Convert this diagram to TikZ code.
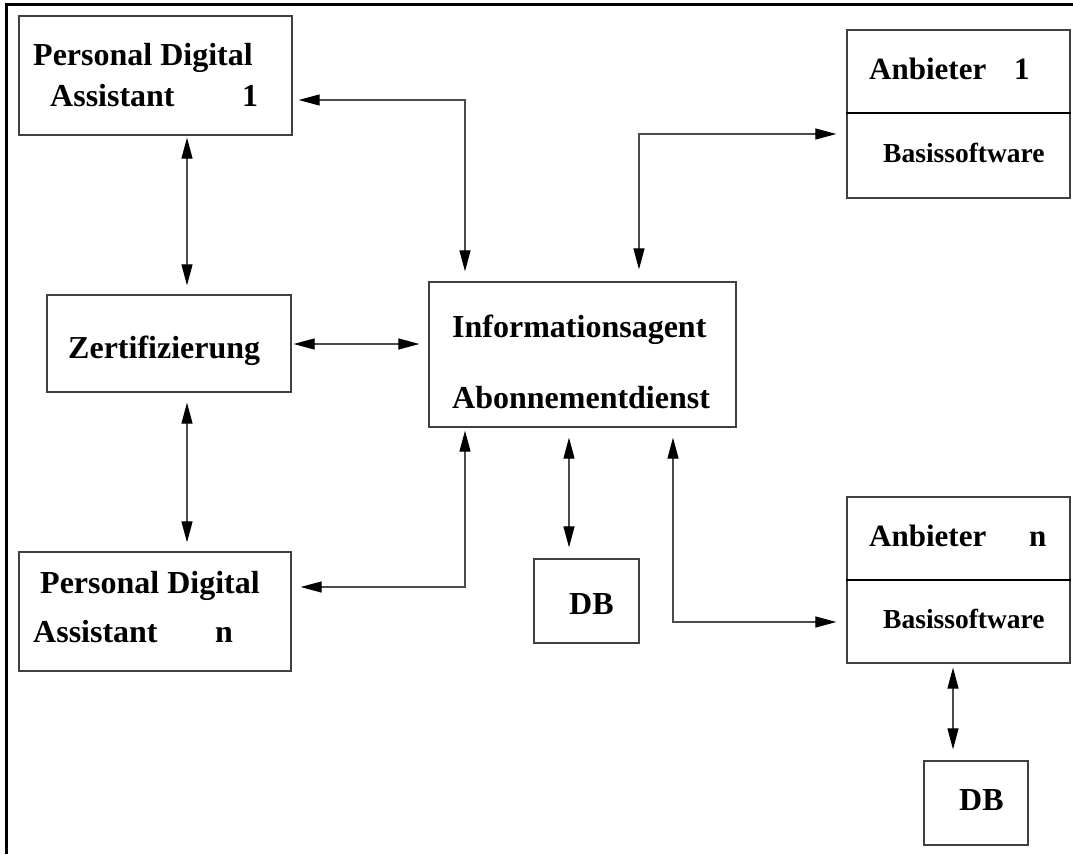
\documentclass[tikz,border=0pt]{standalone}
\usepackage{fontspec}
\setmainfont{Liberation Serif}
\usetikzlibrary{arrows.meta}

\tikzset{
  box/.style={draw=black!75, line width=1.3pt, inner sep=0pt, rectangle},
  lbl/.style={anchor=base west, inner sep=0pt, font=\fontsize{32}{38}\selectfont\bfseries},
  lblmid/.style={lbl, font=\fontsize{31}{37}\selectfont\bfseries},
  lblsmall/.style={lbl, font=\fontsize{27.5}{33}\selectfont\bfseries},
  dbl/.style={draw=black!70, line width=1.2pt,
    {Triangle[length=21pt,width=11pt,color=black]}-{Triangle[length=21pt,width=11pt,color=black]}},
  frameline/.style={line width=3pt, black}
}

\begin{document}
\begin{tikzpicture}[x=1pt,y=-1pt]
\useasboundingbox (0,0) rectangle (1073,854);

% outer frame (top and left edges)
\draw[frameline] (5,4.5) -- (1073,4.5);
\draw[frameline] (6,3) -- (6,854);

% boxes
\node[box, minimum width=273pt, minimum height=119pt] (pda1) at (155.5,75.5) {};
\node[box, minimum width=244pt, minimum height=97pt]  (zert) at (169,343.5) {};
\node[box, minimum width=272pt, minimum height=119pt] (pdan) at (155,611.5) {};
\node[box, minimum width=307pt, minimum height=145pt] (info) at (582.5,354.5) {};
\node[box, minimum width=223pt, minimum height=168pt] (anb1) at (958.5,114) {};
\node[box, minimum width=223pt, minimum height=166pt] (anbn) at (958.5,580) {};
\node[box, minimum width=105pt, minimum height=84pt]  (db1)  at (586.5,601) {};
\node[box, minimum width=104pt, minimum height=84pt]  (db2)  at (976,803) {};

% compartment lines of the provider boxes
\draw[black, line width=1.5pt] (anb1.west |- 0,113) -- (anb1.east |- 0,113);
\draw[black, line width=1.5pt] (anbn.west |- 0,580) -- (anbn.east |- 0,580);

% labels
\node[lbl] (t1a) at (33,65)  {Personal Digital};
\node[lbl] (t1b) at (50,106) {Assistant};
\node[lbl] (t1c) at (242,106) {1};

\node[lbl] (t2)  at (68,358) {Zertifizierung};

\node[lbl] (t3a) at (40,593) {Personal Digital};
\node[lbl] (t3b) at (33,642) {Assistant};
\node[lbl] (t3c) at (215,642) {n};

\node[lbl] (t4a) at (452,337) {Informationsagent};
\node[lbl] (t4b) at (452,408) {Abonnementdienst};

\node[lblmid] (t5a) at (869,79) {Anbieter};
\node[lblmid] (t5b) at (1014,79) {1};
\node[lblsmall] (t5c) at (883,162) {Basissoftware};

\node[lblmid] (t6a) at (869,546) {Anbieter};
\node[lblmid] (t6b) at (1029,546) {n};
\node[lblsmall] (t6c) at (883,628) {Basissoftware};

\node[lbl] (t7) at (569,614) {DB};
\node[lbl] (t8) at (959,810) {DB};

% connectors
\draw[dbl, shorten <=6pt, shorten >=10pt] (pda1.east |- 0,100) -| (465,0 |- info.north);
\draw[dbl, shorten <=12pt, shorten >=10pt] (639,0 |- info.north) |- (anb1.west |- 0,134);
\draw[dbl, shorten <=2pt, shorten >=9pt] (187,0 |- pda1.south) -- (187,0 |- zert.north);
\draw[dbl, shorten <=2pt, shorten >=9pt] (zert.east |- 0,344) -- (info.west |- 0,344);
\draw[dbl, shorten <=10pt, shorten >=9pt] (187,0 |- zert.south) -- (187,0 |- pdan.north);
\draw[dbl, shorten <=9pt, shorten >=3pt] (pdan.east |- 0,587) -| (465,0 |- info.south);
\draw[dbl, shorten <=10pt, shorten >=11pt] (569,0 |- info.south) -- (569,0 |- db1.north);
\draw[dbl, shorten <=10pt, shorten >=10pt] (673,0 |- info.south) |- (anbn.west |- 0,622);
\draw[dbl, shorten <=4pt, shorten >=11pt] (953,0 |- anbn.south) -- (953,0 |- db2.north);
\end{tikzpicture}
\end{document}
